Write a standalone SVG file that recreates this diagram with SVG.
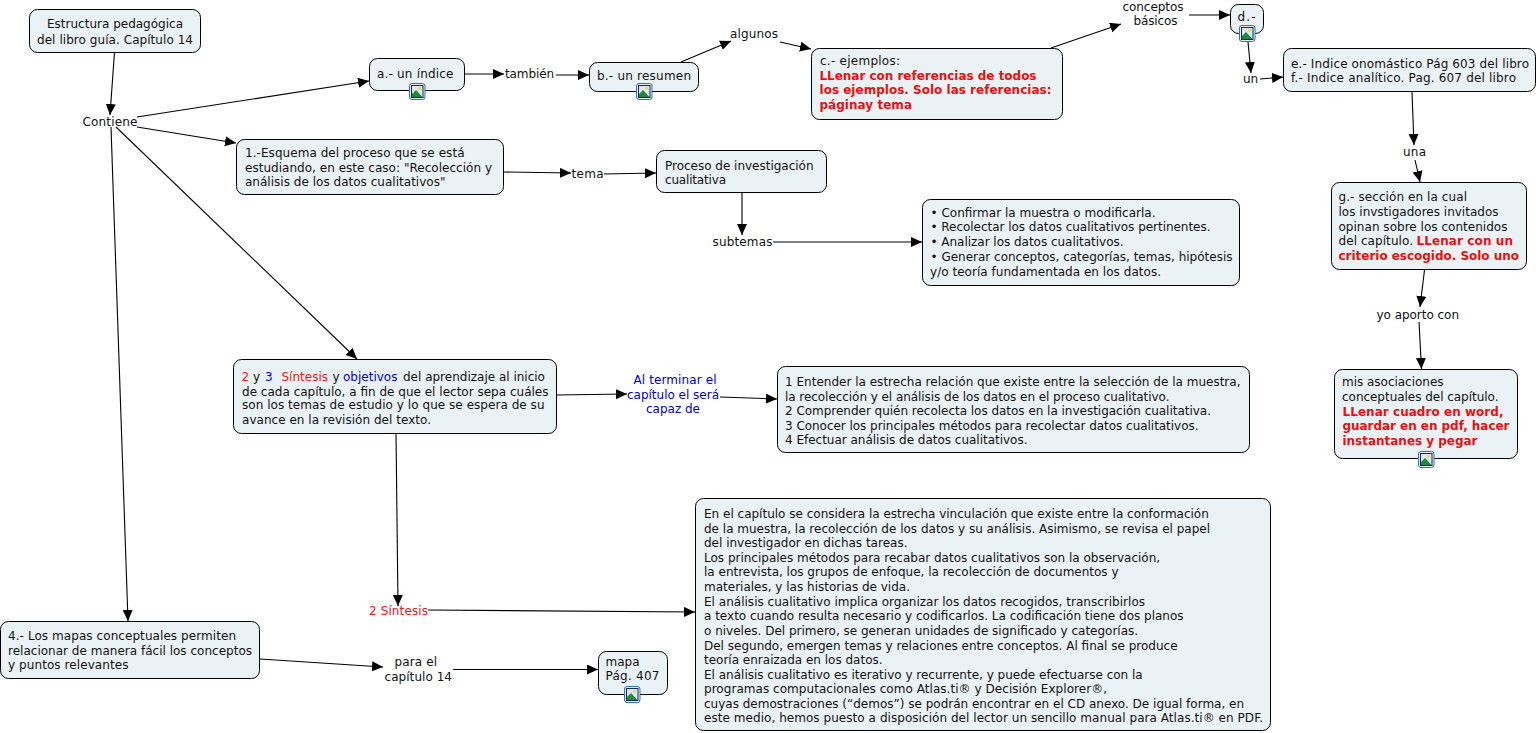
<svg xmlns="http://www.w3.org/2000/svg" width="1539" height="733" viewBox="0 0 1539 733">
<style>
text{font-family:"DejaVu Sans",Verdana,sans-serif;font-size:12px;fill:#111}
.n{fill:#ebf2f5;stroke:#000;stroke-width:1}
.r{fill:#e02020}
.b{fill:#0000cc}
.rb{fill:#e81010;font-weight:bold}
#connectors line{stroke:#000;stroke-width:1.1;marker-end:url(#a)}
</style>
<defs>
<marker id="a" markerUnits="userSpaceOnUse" markerWidth="12" markerHeight="11" refX="11" refY="5" orient="auto"><path d="M0 0L11 5L0 10Z" fill="#000"/></marker>
<g id="icon"><rect x="0.5" y="0.5" width="15.500" height="16" rx="2.500" fill="#e8f0fa" stroke="#2f6fc4" stroke-width="1"/><rect x="2.500" y="2.500" width="11.500" height="12" fill="#dfe9f5" stroke="#142a4a" stroke-width="1"/><circle cx="10.500" cy="5.500" r="1.800" fill="#f2d95c"/><path d="M3 14L3 11L7 7L13.500 14Z" fill="#1f8a3c"/></g>
</defs>
<g id="connectors">
<line x1="114.500" y1="52" x2="110" y2="115"/>
<line x1="137" y1="117" x2="369" y2="81"/>
<line x1="137" y1="127" x2="236" y2="143"/>
<line x1="116" y1="127" x2="357" y2="359"/>
<line x1="111" y1="127" x2="128" y2="621"/>
<line x1="465" y1="74" x2="504" y2="74"/>
<line x1="556" y1="75" x2="589" y2="75"/>
<line x1="681" y1="62" x2="731" y2="41"/>
<line x1="780" y1="42" x2="811" y2="49"/>
<line x1="1051" y1="48" x2="1121" y2="24"/>
<line x1="1189" y1="15" x2="1230" y2="15"/>
<line x1="1248" y1="42" x2="1251" y2="73"/>
<line x1="1260" y1="79" x2="1283" y2="77"/>
<line x1="1412" y1="92" x2="1414" y2="145"/>
<line x1="1415" y1="160" x2="1420" y2="182"/>
<line x1="1424.500" y1="270" x2="1420" y2="307"/>
<line x1="1419" y1="322" x2="1421.500" y2="369"/>
<line x1="503" y1="172" x2="571" y2="173"/>
<line x1="604" y1="174" x2="656" y2="173"/>
<line x1="742" y1="192" x2="742" y2="235"/>
<line x1="773" y1="242" x2="922" y2="242"/>
<line x1="556" y1="395" x2="627" y2="394"/>
<line x1="720" y1="397" x2="777" y2="399"/>
<line x1="396" y1="433" x2="398" y2="606"/>
<line x1="428" y1="610" x2="695" y2="612"/>
<line x1="260" y1="659" x2="383" y2="667"/>
<line x1="453" y1="669.500" x2="598" y2="669.500"/>
</g>
<g id="title"><rect class="n" x="29.500" y="9.500" width="171" height="43" rx="8"/><text x="47" y="28" textLength="136">Estructura pedagógica</text><text x="37" y="44" textLength="156">del libro guía. Capítulo 14</text></g>
<g id="contiene"><text x="82.500" y="126" textLength="55">Contiene</text></g>
<g id="indice"><rect class="n" x="369.500" y="58.500" width="95" height="32" rx="8"/><text x="377" y="78" textLength="76.500">a.- un índice</text><use href="#icon" x="409" y="83"/></g>
<g id="tambien"><text x="505" y="78" textLength="49">también</text></g>
<g id="resumen"><rect class="n" x="589.500" y="62.500" width="109" height="29" rx="8"/><text x="597" y="80" textLength="94">b.- un resumen</text><use href="#icon" x="636" y="83"/></g>
<g id="algunos"><text x="730" y="38" textLength="48">algunos</text></g>
<g id="ejemplos"><rect class="n" x="811.500" y="48.500" width="251" height="71" rx="8"/><text x="820" y="65" textLength="80">c.- ejemplos:</text><text class="rb" x="819.500" y="80" textLength="217">LLenar con referencias de todos</text><text class="rb" x="819.500" y="94" textLength="232">los ejemplos. Solo las referencias:</text><text class="rb" x="819.500" y="109" textLength="92.500">páginay tema</text></g>
<g id="conceptos"><text x="1122.500" y="11" textLength="61">conceptos</text><text x="1133.500" y="25" textLength="44">básicos</text></g>
<g id="d"><rect class="n" x="1230.500" y="4.500" width="33" height="29" rx="8"/><text x="1237.500" y="21" textLength="18">d.-</text><use href="#icon" x="1239" y="25"/></g>
<g id="un"><text x="1243" y="83" textLength="15">un</text></g>
<g id="indices"><rect class="n" x="1283.500" y="48.500" width="252" height="43" rx="8"/><text x="1291" y="68" textLength="238">e.- Indice onomástico Pág 603 del libro</text><text x="1291" y="82" textLength="225">f.- Indice analítico. Pag. 607 del libro</text></g>
<g id="una"><text x="1403" y="156" textLength="23">una</text></g>
<g id="seccion"><rect class="n" x="1331.500" y="182.500" width="195" height="87" rx="8"/><text x="1338.500" y="201" textLength="128.500">g.- sección en la cual</text><text x="1338.500" y="216" textLength="160">los invstigadores invitados</text><text x="1338.500" y="231" textLength="169">opinan sobre los contenidos</text><text x="1338.500" y="245" textLength="74.500">del capítulo.</text><text class="rb" x="1416.500" y="245" textLength="96.500">LLenar con un</text><text class="rb" x="1338.500" y="260" textLength="180.500">criterio escogido. Solo uno</text></g>
<g id="yoaporto"><text x="1376.500" y="319" textLength="82.500">yo aporto con</text></g>
<g id="asociaciones"><rect class="n" x="1334.500" y="369.500" width="183" height="89" rx="8"/><text x="1342" y="386" textLength="101.500">mis asociaciones</text><text x="1342" y="401" textLength="156.500">conceptuales del capítulo.</text><text class="rb" x="1342.500" y="416" textLength="161">LLenar cuadro en word,</text><text class="rb" x="1342.500" y="430" textLength="167">guardar en en pdf, hacer</text><text class="rb" x="1342.500" y="445" textLength="135">instantanes y pegar</text><use href="#icon" x="1418" y="451"/></g>
<g id="esquema"><rect class="n" x="236.500" y="139.500" width="267" height="55" rx="8"/><text x="245" y="157" textLength="219.500">1.-Esquema del proceso que se está</text><text x="245" y="172" textLength="247">estudiando, en este caso: "Recolección y</text><text x="245" y="186" textLength="200.500">análisis de los datos cualitativos"</text></g>
<g id="tema"><text x="571.500" y="178" textLength="32">tema</text></g>
<g id="proceso"><rect class="n" x="656.500" y="150.500" width="170" height="42" rx="8"/><text x="665" y="170" textLength="148.500">Proceso de investigación</text><text x="665" y="184" textLength="61">cualitativa</text></g>
<g id="subtemas"><text x="712.500" y="246" textLength="60">subtemas</text></g>
<g id="bullets"><rect class="n" x="922.500" y="199.500" width="317" height="86" rx="8"/><text x="930.500" y="217" textLength="225">• Confirmar la muestra o modificarla.</text><text x="930.500" y="231" textLength="280">• Recolectar los datos cualitativos pertinentes.</text><text x="930.500" y="246" textLength="193">• Analizar los datos cualitativos.</text><text x="930.500" y="261" textLength="302">• Generar conceptos, categorías, temas, hipótesis</text><text x="930" y="276" textLength="231">y/o teoría fundamentada en los datos.</text></g>
<g id="sintesis-objetivos"><rect class="n" x="233.500" y="359.500" width="323" height="74" rx="8"/><text y="381"><tspan class="r" x="241.500">2</tspan><tspan x="253">y</tspan><tspan class="b" x="265">3</tspan><tspan class="r" x="281.500">Síntesis</tspan><tspan x="332.500">y</tspan><tspan class="b" x="343">objetivos</tspan><tspan x="403">del aprendizaje al inicio</tspan></text><text x="242" y="396" textLength="306.500">de cada capítulo, a fin de que el lector sepa cuáles</text><text x="242" y="409" textLength="302.500">son los temas de estudio y lo que se espera de su</text><text x="242" y="424" textLength="189">avance en la revisión del texto.</text></g>
<g id="alterminar"><text class="b" x="633.500" y="384" textLength="83">Al terminar el</text><text class="b" x="627" y="399" textLength="92">capítulo el será</text><text class="b" x="646" y="413" textLength="54">capaz de</text></g>
<g id="lista"><rect class="n" x="777.500" y="366.500" width="472" height="86" rx="8"/><text x="785" y="386" textLength="455.500">1 Entender la estrecha relación que existe entre la selección de la muestra,</text><text x="785" y="401" textLength="384.500">la recolección y el análisis de los datos en el proceso cualitativo.</text><text x="785" y="415" textLength="426">2 Comprender quién recolecta los datos en la investigación cualitativa.</text><text x="785" y="430" textLength="413.500">3 Conocer los principales métodos para recolectar datos cualitativos.</text><text x="785" y="444" textLength="242.500">4 Efectuar análisis de datos cualitativos.</text></g>
<g id="sintesis"><text class="r" x="369" y="615" textLength="59">2 Síntesis</text></g>
<g id="resumen-capitulo"><rect class="n" x="695.500" y="498.500" width="575" height="232" rx="8"/>
<text x="704" y="518">En el capítulo se considera la estrecha vinculación que existe entre la conformación</text>
<text x="704" y="533">de la muestra, la recolección de los datos y su análisis. Asimismo, se revisa el papel</text>
<text x="704" y="547">del investigador en dichas tareas.</text>
<text x="704" y="562">Los principales métodos para recabar datos cualitativos son la observación,</text>
<text x="704" y="576">la entrevista, los grupos de enfoque, la recolección de documentos y</text>
<text x="704" y="591">materiales, y las historias de vida.</text>
<text x="704" y="606" textLength="441">El análisis cualitativo implica organizar los datos recogidos, transcribirlos</text>
<text x="704" y="620">a texto cuando resulta necesario y codificarlos. La codificación tiene dos planos</text>
<text x="704" y="635">o niveles. Del primero, se generan unidades de significado y categorías.</text>
<text x="704" y="650">Del segundo, emergen temas y relaciones entre conceptos. Al final se produce</text>
<text x="704" y="664">teoría enraizada en los datos.</text>
<text x="704" y="679">El análisis cualitativo es iterativo y recurrente, y puede efectuarse con la</text>
<text x="704" y="693" textLength="403">programas computacionales como Atlas.ti® y Decisión Explorer®,</text>
<text x="704" y="708">cuyas demostraciones (“demos”) se podrán encontrar en el CD anexo. De igual forma, en</text>
<text x="704" y="722" textLength="559">este medio, hemos puesto a disposición del lector un sencillo manual para Atlas.ti® en PDF.</text></g>
<g id="mapas"><rect class="n" x="0.500" y="621.500" width="259" height="57" rx="8"/><text x="8" y="640" textLength="228">4.- Los mapas conceptuales permiten</text><text x="8" y="655" textLength="244">relacionar de manera fácil los conceptos</text><text x="8" y="669" textLength="120.500">y puntos relevantes</text></g>
<g id="parael"><text x="394.500" y="666" textLength="42.500">para el</text><text x="384.500" y="681" textLength="67.500">capítulo 14</text></g>
<g id="mapa"><rect class="n" x="598.500" y="651.500" width="69" height="43" rx="8"/><text x="605.500" y="666" textLength="34">mapa</text><text x="605.500" y="680" textLength="54">Pág. 407</text><use href="#icon" x="624" y="686"/></g>
</svg>
